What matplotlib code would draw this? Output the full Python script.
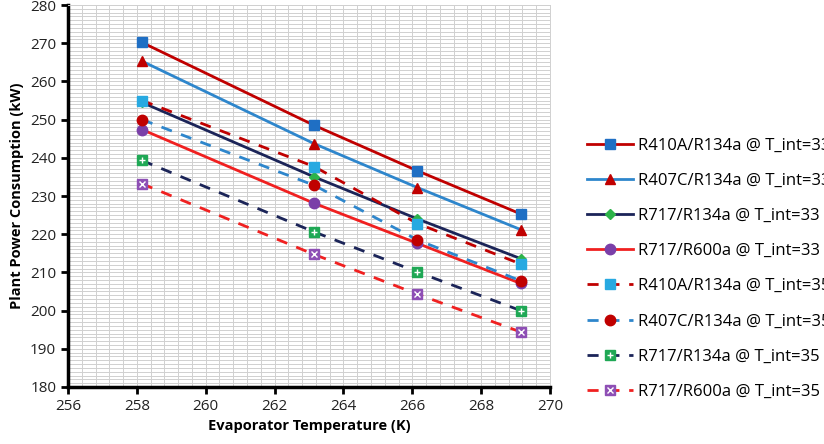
import matplotlib.pyplot as plt
import numpy as np
from matplotlib.ticker import MultipleLocator

plt.rcParams['font.family'] = ['Open Sans', 'DejaVu Sans']

temps = [258.15, 263.15, 266.15, 269.15]

labels = [
    "R410A/R134a @ T_int=33 C",
    "R407C/R134a @ T_int=33 C",
    "R717/R134a @ T_int=33 C",
    "R717/R600a @ T_int=33 C",
    "R410A/R134a @ T_int=35 C",
    "R407C/R134a @ T_int=35 C",
    "R717/R134a @ T_int=35 C",
    "R717/R600a @ T_int=35 C",
]

r410a_33 = [270.2, 248.5, 236.6, 225.3]
r407c_33 = [265.3, 243.7, 232.2, 221.2]
r717_r134a_33 = [254.5, 235.0, 224.0, 213.6]
r717_r600a_33 = [247.4, 228.1, 217.6, 207.1]
r410a_35 = [255.0, 237.7, 222.8, 212.2]
r407c_35 = [250.0, 232.8, 218.5, 207.8]
r717_r134a_35 = [239.3, 220.6, 210.1, 200.0]
r717_r600a_35 = [233.2, 214.7, 204.3, 194.4]

series = [r410a_33, r407c_33, r717_r134a_33, r717_r600a_33,
          r410a_35, r407c_35, r717_r134a_35, r717_r600a_35]

# line colour, marker, marker colour, dashed, overlay marker
styles = [
    ('#C00000', 's', '#1F6FC4', False, None),
    ('#2E86CC', '^', '#C00000', False, None),
    ('#1B2458', 'D', '#2DB34A', False, None),
    ('#F02020', 'o', '#7A3FA8', False, None),
    ('#C00000', 's', '#27A9E1', True, None),
    ('#2E86CC', 'o', '#C00000', True, None),
    ('#1B2458', 's', '#1FA855', True, '+'),
    ('#F02020', 's', '#8E4FB5', True, 'x'),
]

fig = plt.figure(figsize=(8.24, 4.44), dpi=100)
ax = fig.add_axes([0.0825, 0.1284, 0.585, 0.8603])

handles = []
for vals, lab, (lc, mk, mc, dashed, over) in zip(series, labels, styles):
    ms = 5 if mk == 'D' else 7.5
    line, = ax.plot(temps, vals, color=lc, lw=2.0, marker=mk, ms=ms,
                    mfc=mc, mec=mc, label=lab, zorder=3)
    if dashed:
        line.set_dashes([4, 3.5])
    h = line
    if over:
        o, = ax.plot(temps, vals, ls='none', marker=over, ms=5, mew=1.0,
                     color='white', zorder=4)
        h = (line, o)
    handles.append(h)

ax.set_xlim(256, 270)
ax.set_ylim(180, 280)
ax.xaxis.set_major_locator(MultipleLocator(2))
ax.yaxis.set_major_locator(MultipleLocator(10))
ax.xaxis.set_minor_locator(MultipleLocator(0.4))
ax.yaxis.set_minor_locator(MultipleLocator(1))
ax.grid(which='both', color='#D0D0D0', lw=0.7, zorder=0)
ax.set_axisbelow(True)
ax.tick_params(which='major', direction='out', length=5, width=2,
               labelsize=11, colors='black', labelcolor='#222222')
ax.tick_params(which='minor', length=0)
for s in ['left', 'bottom']:
    ax.spines[s].set_linewidth(2.5)
    ax.spines[s].set_color('black')
for s in ['top', 'right']:
    ax.spines[s].set_color('#D0D0D0')
    ax.spines[s].set_linewidth(0.7)

ax.set_xlabel('Evaporator Temperature (K)', fontsize=10.5, fontweight='bold')
ax.set_ylabel('Plant Power Consumption (kW)', fontsize=10.5, fontweight='bold')

fig.legend(handles, labels, loc='upper left', bbox_to_anchor=(0.712, 0.69),
           frameon=False, fontsize=12, handlelength=2.8, handletextpad=0.3,
           labelspacing=1.15, borderaxespad=0, borderpad=0)

fig.savefig('out.png', dpi=100)
